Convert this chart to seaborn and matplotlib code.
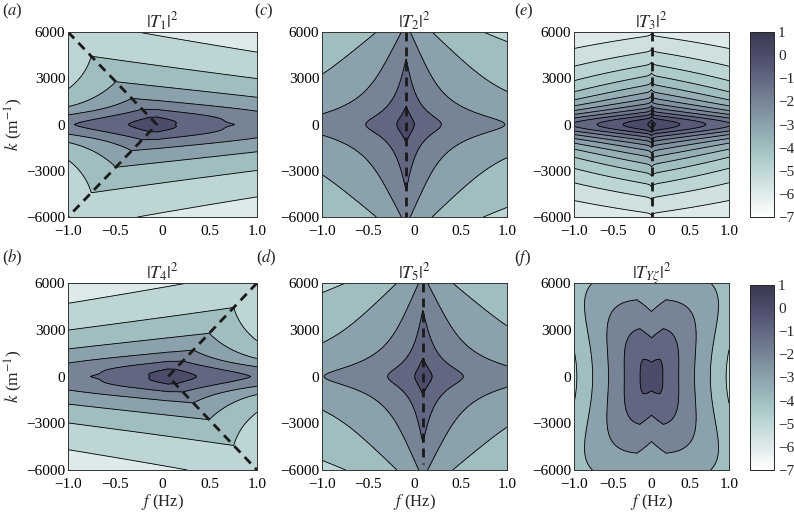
import numpy as np
import matplotlib
matplotlib.use("Agg")
import matplotlib.pyplot as plt
import seaborn as sns
from matplotlib.colors import LinearSegmentedColormap, Normalize
from matplotlib.cm import ScalarMappable

sns.set_theme(style="white")
plt.rcParams['font.family'] = ['Liberation Serif', 'DejaVu Serif']
plt.rcParams['mathtext.fontset'] = 'stix'

# ---------------- data ----------------
f_ticks = [-1.0, -0.5, 0.0, 0.5, 1.0]
f_ticklabels = ["\u22121.0", "\u22120.5", "0", "0.5", "1.0"]
k_ticks = [-6000, -3000, 0, 3000, 6000]
k_ticklabels = ["\u22126000", "\u22123000", "0", "3000", "6000"]
cbar_ticks = [1, 0, -1, -2, -3, -4, -5, -6, -7]
cbar_ticklabels = ["1", "0", "\u22121", "\u22122", "\u22123", "\u22124", "\u22125", "\u22126", "\u22127"]
value_range = [-7.0, 1.0]

panel_titles = [r"$|T_1|^2$", r"$|T_2|^2$", r"$|T_3|^2$",
                r"$|T_4|^2$", r"$|T_5|^2$", r"$|T_{Y\zeta}|^2$"]
panel_letters = ["a", "c", "e", "b", "d", "f"]
level_steps = [1.0, 1.0, 0.5, 1.0, 1.0, 1.0]

# dashed resonance lines: f (Hz) and k (1/m) vertices
dash_f = [[-1.0, -0.06, -1.0], [-0.09, -0.09], [0.0, 0.0],
          [1.0, 0.06, 1.0], [0.09, 0.09], None]
dash_k = [[6000, 0, -6000], [6000, -6000], [6000, -6000],
          [6000, 0, -6000], [6000, -5600], None]

t1_centre = [-0.06, 0.94]                    # f0 (Hz), ridge slope (Hz per 6000 1/m)
t1_peak = [0.45, 1.7, 0.8, 24.7, 1.41]       # height, f-decay, f-power, k-decay, k-power
t1_ridge = [0.28, 2.55, 0.108, 0.36, 0.1, 2.4]
t2_centre = [-0.09]
t2_kprof = [0.6, 0.85, 0.10, 0.55]
t2_fprof = [2.7, 0.15, 1.15]
t3_kprof = [0.8, 3.1, 0.095, 2.0]
t3_fprof = [0.25, 0.02, 1.5, 0.5]
tyz_prof = [0.72, 4.9, 3.3, 1.42, 3.0]
tyz_notch = [0.55, 0.5, 0.09, 0.12, 0.7]

f_axis = np.linspace(-1.0, 1.0, 501)
k_axis = np.linspace(-6000.0, 6000.0, 501)
FF, KK = np.meshgrid(f_axis, k_axis)
YY = KK / 6000.0


def log_sum(*parts):
    return np.log10(np.sum([10.0 ** p for p in parts], axis=0))


def field_t1(X, Y, sign=1.0):
    x0, c = t1_centre
    xp = X * sign - x0
    ay = np.abs(Y)
    a, bx, px, by, py = t1_peak
    peak = a - bx * np.abs(xp) ** px - by * ay ** py
    R0, P, s, bR0, bR1, bL = t1_ridge
    R = R0 - P * np.log10(1 + (ay / s) ** 2)
    r = xp + c * ay
    bR = bR0 + bR1 / (ay + 0.01)
    ridge = R - bR * np.maximum(r, 0) - bL * np.maximum(-r, 0)
    return log_sum(peak, ridge)


def field_t2(X, Y, sign=1.0):
    x0 = t2_centre[0]
    xp = X * sign - x0
    F0, P, s, g = t2_kprof
    R = F0 - P * np.log10(1 + (Y / s) ** 2) - g * Y ** 4
    A, sx, right = t2_fprof
    d = np.where(xp > 0, xp * right, -xp)
    D = A * np.log10(1 + d / sx)
    return R - D


def field_t3(X, Y):
    F0, P, s, q = t3_kprof
    ay = np.abs(Y)
    R = F0 - P * np.log10(1 + (ay / s) ** q)
    c0, cs, a, yg = t3_fprof
    ax_ = np.abs(X)
    D = (c0 * (1 - np.exp(-ax_ / cs)) + a * ax_) / (1 + (ay / yg) ** 2)
    return R - D


def field_tyz(X, Y):
    F0, ax_, ay_, yg, p = tyz_prof
    g = 1.0 / (1 + (Y / yg) ** 2)
    Dx = ax_ * np.abs(X) * g
    Dy = ay_ * np.abs(Y)
    F = F0 - (Dx ** p + Dy ** p) ** (1.0 / p)
    amp, pw, w0, w1, fade = tyz_notch
    ay = np.abs(Y)
    depth = amp * ay ** pw * (1 - fade * ay ** 6)
    width = w0 + w1 * ay
    return F - depth * np.maximum(0.0, 1.0 - np.abs(X) / width)


fields = [field_t1(FF, YY), field_t2(FF, YY), field_t3(FF, YY),
          field_t1(FF, YY, -1.0), field_t2(FF, YY, -1.0), field_tyz(FF, YY)]

# ---------------- colours ----------------
bone = plt.get_cmap("bone")
cmap = LinearSegmentedColormap.from_list("bone_part", bone(np.linspace(1.0, 0.25, 256)))
norm = Normalize(vmin=value_range[0], vmax=value_range[1])

W, H = 794, 514
fig = plt.figure(figsize=(W / 100, H / 100), dpi=100)


def pos(l, r, t, b):
    return [l / W, 1 - b / H, (r - l) / W, (b - t) / H]


axes_pos = [pos(68, 257, 32, 217), pos(322, 507, 32, 217), pos(574, 729, 32, 217),
            pos(68, 257, 283, 470), pos(322, 507, 283, 470), pos(574, 729, 283, 470)]
cbar_pos = [pos(750, 774, 32, 217), pos(750, 774, 285, 470)]
letter_xy = [(2, 11), (254, 11), (514, 11), (2, 258), (256, 258), (514, 258)]

fs = 11
for i in range(6):
    ax = fig.add_axes(axes_pos[i])
    step = level_steps[i]
    levels = np.arange(value_range[0], value_range[1] + 1e-9, step)
    Z = np.clip(fields[i], value_range[0] + 1e-6, value_range[1] - 1e-6)
    band_colors = [cmap(norm(l)) for l in levels[:-1]]
    ax.contourf(FF, KK, Z, levels=levels, colors=band_colors)
    ax.contour(FF, KK, Z, levels=levels[1:-1], colors="black", linewidths=0.6,
               negative_linestyles="solid")
    if dash_f[i] is not None:
        sns.lineplot(x=dash_f[i], y=dash_k[i], ax=ax, color="#1a1a1a", lw=2.0,
                     sort=False, estimator=None)
        ax.lines[-1].set_dashes((3.2, 2.2))
    ax.set_xlim(-1, 1)
    ax.set_ylim(-6000, 6000)
    ax.set_xticks(f_ticks)
    ax.set_xticklabels(f_ticklabels, fontsize=fs)
    ax.set_yticks(k_ticks)
    ax.set_yticklabels(k_ticklabels, fontsize=fs)
    ax.tick_params(direction="in", length=3, width=0.6, top=True, right=True,
                   bottom=True, left=True, colors="black")
    ax.tick_params(axis="x", pad=5.5)
    ax.tick_params(axis="y", pad=2)
    for sp in ax.spines.values():
        sp.set_linewidth(0.7)
        sp.set_color("#333333")
    ax.set_title(panel_titles[i], fontsize=13, pad=3)
    ax.set_xlabel("")
    ax.set_ylabel("")
    if i in (0, 3):
        ax.set_ylabel(r"$k$ (m$^{-1}$)", fontsize=12.5, labelpad=1)
    if i >= 3:
        ax.set_xlabel(r"$f$ (Hz)", fontsize=12, labelpad=1)
    lx, ly = letter_xy[i]
    fig.text(lx / W, 1 - ly / H, "(" + r"$%s$" % panel_letters[i] + ")",
             fontsize=12, ha="left", va="center")

for j in range(2):
    cax = fig.add_axes(cbar_pos[j])
    sm = ScalarMappable(norm=norm, cmap=cmap)
    cb = fig.colorbar(sm, cax=cax, ticks=cbar_ticks)
    cb.ax.set_yticklabels(cbar_ticklabels, fontsize=fs)
    cb.ax.tick_params(direction="in", length=3, width=0.6, left=True, right=True, pad=3)
    cb.outline.set_linewidth(0.7)

fig.savefig("out.png", dpi=100)
